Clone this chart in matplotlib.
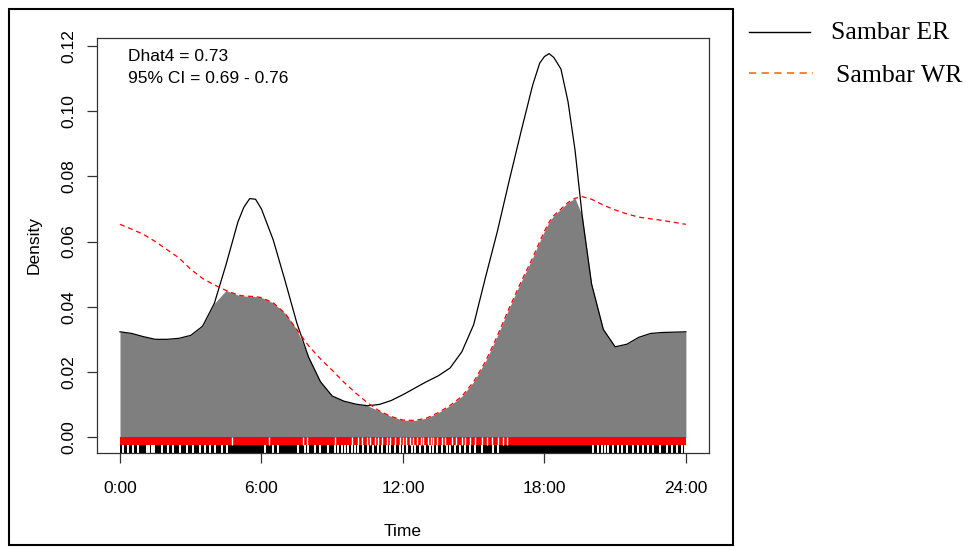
import numpy as np
import matplotlib
matplotlib.use('Agg')
import matplotlib.pyplot as plt
from matplotlib.lines import Line2D
from matplotlib.patches import Rectangle

plt.rcParams['font.family'] = 'Liberation Sans'

# kernel density of activity, sampled along the day (hours)
hours = [0, 0.5, 1, 1.5, 2, 2.5, 3, 3.5, 4, 4.5, 5, 5.25, 5.5, 5.75, 6, 6.5, 7, 7.5,
         8, 8.5, 9, 9.5, 10, 10.5, 11, 11.5, 12, 12.5, 13, 13.5, 14, 14.5, 15, 15.5,
         16, 16.5, 17, 17.5, 17.8, 18, 18.2, 18.4, 18.7, 19, 19.3, 19.6, 20, 20.5,
         21, 21.5, 22, 22.5, 23, 23.5, 24]

dens_er = [0.0323, 0.0318, 0.0308, 0.0300, 0.0300, 0.0303, 0.0312, 0.0340, 0.0410,
           0.0530, 0.0660, 0.0705, 0.0732, 0.0730, 0.0700, 0.0605, 0.0480, 0.0350,
           0.0245, 0.0170, 0.0126, 0.0110, 0.0101, 0.0096, 0.0100, 0.0112, 0.0130,
           0.0150, 0.0170, 0.0188, 0.0212, 0.0262, 0.0345, 0.0490, 0.0630, 0.0785,
           0.0935, 0.1080, 0.1148, 0.1168, 0.1177, 0.1165, 0.1130, 0.1030, 0.0880,
           0.0680, 0.0470, 0.0330, 0.0277, 0.0285, 0.0306, 0.0318, 0.0321, 0.0322,
           0.0323]

dens_wr = [0.0653, 0.0638, 0.0622, 0.0600, 0.0575, 0.0550, 0.0515, 0.0487, 0.0467,
           0.0450, 0.0436, 0.0433, 0.0432, 0.0431, 0.0428, 0.0412, 0.0380, 0.0330,
           0.0280, 0.0240, 0.0205, 0.0168, 0.0135, 0.0105, 0.0080, 0.0063, 0.0052,
           0.0051, 0.0058, 0.0075, 0.0097, 0.0125, 0.0170, 0.0232, 0.0310, 0.0395,
           0.0475, 0.0550, 0.0600, 0.0632, 0.0660, 0.0680, 0.0700, 0.0720, 0.0733,
           0.0738, 0.0730, 0.0712, 0.0697, 0.0685, 0.0675, 0.0670, 0.0665, 0.0659,
           0.0653]

# times of day with no records in each rug (everything else is covered)
gaps_wr = [4.77, 6.32, 7.78, 7.92, 9.12, 9.85, 10.11, 10.25, 10.46, 10.60, 10.81,
           10.96, 11.10, 11.31, 11.45, 11.66, 11.87, 12.02, 12.15, 12.30, 12.44,
           12.60, 12.75, 12.86, 13.05, 13.20, 13.29, 13.45, 13.64, 13.80, 14.07,
           14.25, 14.49, 14.65, 14.84, 15.05, 15.34, 15.55, 15.76, 16.05, 16.26, 16.40]

gaps_er = [0.14, 0.35, 0.57, 0.78, 1.15, 1.25, 1.35, 1.45, 1.77, 2.05, 2.26, 2.54,
           2.83, 3.11, 3.39, 3.60, 3.82, 4.03, 4.31, 4.52, 6.15, 6.50, 6.71, 7.56,
           7.85, 7.99, 8.27, 8.48, 8.83, 9.12, 9.26, 9.40, 9.54, 9.68, 9.83, 9.97,
           10.10, 10.32, 10.53, 10.74, 10.95, 11.10, 11.31, 11.45, 11.66, 11.87,
           12.02, 12.16, 12.37, 12.51, 12.72, 12.93, 13.15, 13.29, 13.43, 13.64,
           13.86, 14.00, 14.21, 14.42, 14.63, 14.85, 15.06, 15.34, 15.84, 16.05,
           20.08, 20.29, 20.43, 20.57, 20.71, 20.92, 21.13, 21.27, 21.49, 21.77,
           21.98, 22.19, 22.40, 22.62, 22.90, 23.18, 23.39, 23.61, 23.82, 23.96]

tick_pos = [0, 6, 12, 18, 24]
tick_lab = ['0:00', '6:00', '12:00', '18:00', '24:00']
y_ticks = [0.00, 0.02, 0.04, 0.06, 0.08, 0.10, 0.12]

dhat = 0.73
ci = (0.69, 0.76)

x = np.array(hours)
er = np.array(dens_er)
wr = np.array(dens_wr)

fig = plt.figure(figsize=(9.71, 5.47), dpi=100)
ax = fig.add_axes([97/971, 94/547, 612/971, 415/547])

# overlap area
ax.fill_between(x, 0, np.minimum(er, wr), color='#7f7f7f', linewidth=0)
ax.plot(x, er, color='black', lw=0.9)
ax.plot(x, wr, color='red', lw=0.9, linestyle=(0, (4, 3)))

# rugs
rug_h = 0.00245
ax.add_patch(Rectangle((0, -rug_h), 24, rug_h, color='red', lw=0))
ax.add_patch(Rectangle((0, -2*rug_h), 24, rug_h, color='black', lw=0))
ax.vlines(gaps_wr, -rug_h, 0, color='white', lw=1.0)
ax.vlines(gaps_er, -2*rug_h, -rug_h, color='white', lw=1.4)

ax.set_xlim(-0.975, 24.98)
ax.set_ylim(-0.0049, 0.1225)
ax.set_xticks(tick_pos)
ax.set_xticklabels(tick_lab)
ax.set_yticks(y_ticks)
ax.set_yticklabels(['%.2f' % v for v in y_ticks], rotation=90, va='center')
ax.tick_params(axis='both', length=7, width=0.9, color='#333333', labelsize=12.5,
               direction='out')
ax.tick_params(axis='x', pad=13)
ax.tick_params(axis='y', pad=8)
for s in ax.spines.values():
    s.set_color('#333333')
    s.set_linewidth(0.9)

ax.set_xlabel('Time', fontsize=12.5, labelpad=20)
ax.set_ylabel('Density', fontsize=12.5, labelpad=14)

ax.text(0.05, 0.955, 'Dhat4 = %.2f' % dhat, transform=ax.transAxes, fontsize=12.5,
        va='center')
ax.text(0.05, 0.902, '95%% CI = %.2f - %.2f' % ci, transform=ax.transAxes,
        fontsize=12.5, va='center')

# frame round the plot region
fig.add_artist(Rectangle((9/971, 2/547), 724/971, 536/547, transform=fig.transFigure,
                         fill=False, edgecolor='black', lw=1.5))

# legend, drawn beside the frame
fig.add_artist(Line2D([749/971, 810/971], [1 - 32/547, 1 - 32/547],
                      transform=fig.transFigure, color='black', lw=1.0))
fig.add_artist(Line2D([749/971, 813/971], [1 - 73/547, 1 - 73/547],
                      transform=fig.transFigure, color='#ed7d31', lw=1.3,
                      linestyle=(0, (4, 3))))
fig.text(831/971, 1 - 33/547, 'Sambar ER', family='Liberation Serif', fontsize=18.5,
         va='center')
fig.text(836/971, 1 - 76/547, 'Sambar WR', family='Liberation Serif', fontsize=18.5,
         va='center')

fig.savefig('out.png', dpi=100)
